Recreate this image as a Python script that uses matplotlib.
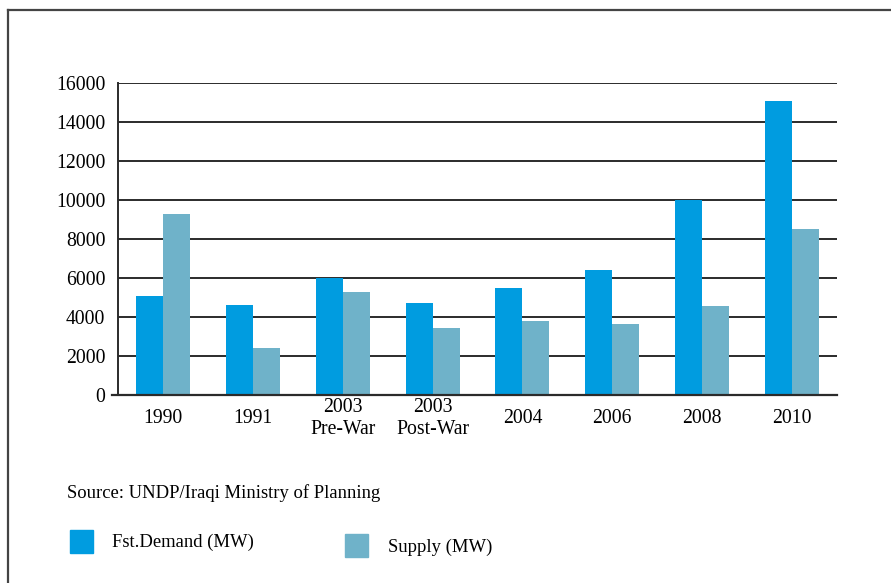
import matplotlib.pyplot as plt
import numpy as np
from matplotlib.patches import Rectangle
from matplotlib.lines import Line2D

categories = ["1990", "1991", "2003\nPre-War", "2003\nPost-War", "2004", "2006", "2008", "2010"]
demand = [5100, 4600, 6000, 4700, 5500, 6400, 10000, 15100]
supply = [9300, 2400, 5300, 3450, 3800, 3650, 4550, 8500]
yticks = [0, 2000, 4000, 6000, 8000, 10000, 12000, 14000, 16000]

DEMAND_COLOR = "#009ce0"
SUPPLY_COLOR = "#6fb2c9"

plt.rcParams["font.family"] = ["Liberation Serif", "DejaVu Serif"]

fig = plt.figure(figsize=(8.91, 5.83), dpi=100)
ax = fig.add_axes([118 / 891, 1 - 395 / 583, (837 - 118) / 891, (395 - 83) / 583])

x = np.arange(len(categories))
w = 0.3

# Gridlines behind bars
for yv in yticks[1:]:
    ax.axhline(yv, color="#2b2b2b", linewidth=1.4, zorder=1)

ax.bar(x - w / 2, demand, width=w, color=DEMAND_COLOR, zorder=2)
ax.bar(x + w / 2, supply, width=w, color=SUPPLY_COLOR, zorder=2)

ax.set_xlim(-0.5, len(categories) - 0.5)
ax.set_ylim(0, 16000)

ax.set_yticks(yticks)
ax.set_yticklabels([str(v) for v in yticks], fontsize=14.2)
ax.tick_params(axis="y", length=0, pad=9)

ax.set_xticks(x)
ax.set_xticklabels(categories, fontsize=14.2, va="center", linespacing=1.25)
ax.tick_params(axis="x", length=0, pad=17)

for s in ["top", "right", "bottom"]:
    ax.spines[s].set_visible(False)
ax.spines["left"].set_color("#2b2b2b")
ax.spines["left"].set_linewidth(1.4)

# zero line slightly extended to the left
ax.add_line(Line2D([-0.57, len(categories) - 0.5], [0, 0], color="#2b2b2b",
                   linewidth=1.6, clip_on=False, zorder=3))

# Source note and legend
fig.text(67 / 891, 1 - 493 / 583, "Source: UNDP/Iraqi Ministry of Planning",
         fontsize=13.4, va="center", ha="left")

fig.patches.append(Rectangle((70 / 891, 1 - 553 / 583), 23 / 891, 23 / 583,
                             transform=fig.transFigure, color=DEMAND_COLOR))
fig.text(112 / 891, 1 - 542 / 583, "Fst.Demand (MW)", fontsize=13.4, va="center")

fig.patches.append(Rectangle((345 / 891, 1 - 557 / 583), 23 / 891, 23 / 583,
                             transform=fig.transFigure, color=SUPPLY_COLOR))
fig.text(388 / 891, 1 - 547 / 583, "Supply (MW)", fontsize=13.4, va="center")

# frame on top and left
fig.add_artist(Line2D([8 / 891, 1.0], [1 - 10 / 583, 1 - 10 / 583],
                      transform=fig.transFigure, color="#444444", linewidth=1.6))
fig.add_artist(Line2D([8 / 891, 8 / 891], [0.0, 1 - 10 / 583],
                      transform=fig.transFigure, color="#444444", linewidth=1.6))

fig.savefig("out.png", dpi=100)
